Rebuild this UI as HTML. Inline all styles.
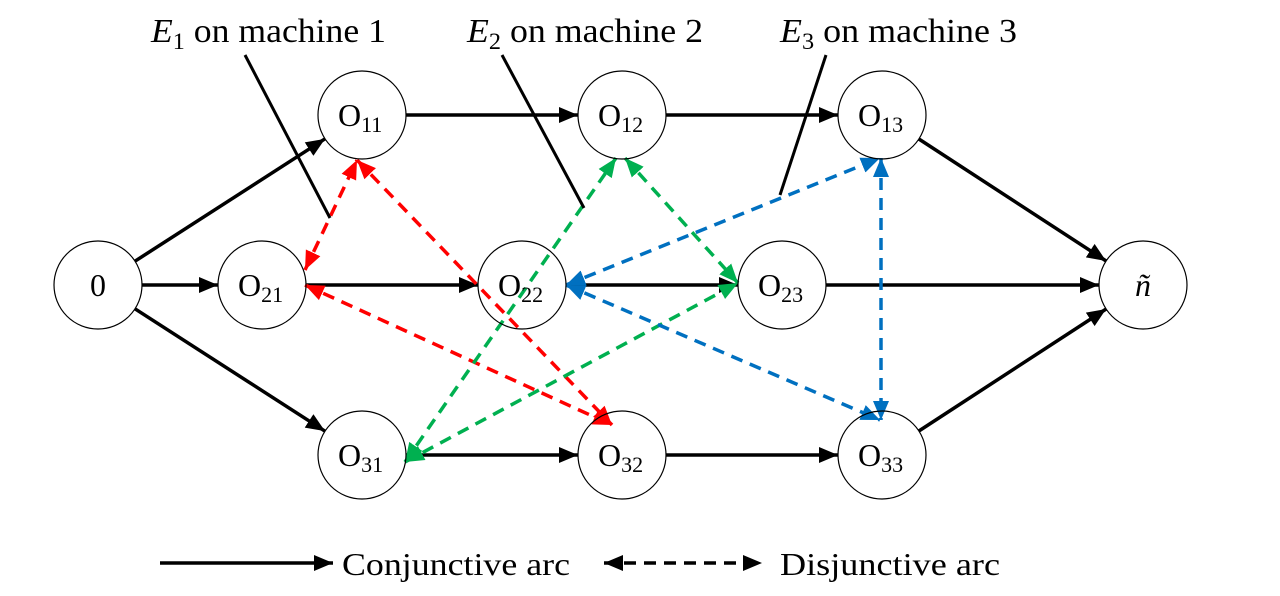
<!DOCTYPE html>
<html><head><meta charset="utf-8"><style>
html,body{margin:0;padding:0;background:#fff;}
svg{display:block;}
text{font-family:"Liberation Serif",serif;fill:#000;}
</style></head><body>
<svg id="s" width="1280" height="596" xmlns="http://www.w3.org/2000/svg">
<defs>
<marker id="mr" markerWidth="20" markerHeight="18" refX="19" refY="9" orient="auto-start-reverse" markerUnits="userSpaceOnUse"><path d="M0,1 L19,9 L0,17 z" fill="#ff0000"/></marker>
<marker id="mg" markerWidth="20" markerHeight="18" refX="19" refY="9" orient="auto-start-reverse" markerUnits="userSpaceOnUse"><path d="M0,1 L19,9 L0,17 z" fill="#00b050"/></marker>
<marker id="mb" markerWidth="20" markerHeight="18" refX="19" refY="9" orient="auto-start-reverse" markerUnits="userSpaceOnUse"><path d="M0,1 L19,9 L0,17 z" fill="#0070c0"/></marker>
<marker id="mK" markerWidth="20" markerHeight="18" refX="19" refY="9" orient="auto-start-reverse" markerUnits="userSpaceOnUse"><path d="M0,1 L19,9 L0,17 z" fill="#000"/></marker>
</defs>
<g id="lines"></g>
<g id="nodes"></g>
<line x1="245" y1="55" x2="330" y2="218" stroke="#000" stroke-width="3"/>
<line x1="502" y1="55" x2="584" y2="208" stroke="#000" stroke-width="3"/>
<line x1="826" y1="55" x2="780" y2="195" stroke="#000" stroke-width="3"/>
<text x="151" y="42" font-size="34" textLength="235" lengthAdjust="spacingAndGlyphs"><tspan font-style="italic">E</tspan><tspan font-size="23" dy="7">1</tspan><tspan dy="-7"> on machine 1</tspan></text>
<text x="467" y="42" font-size="34" textLength="236" lengthAdjust="spacingAndGlyphs"><tspan font-style="italic">E</tspan><tspan font-size="23" dy="7">2</tspan><tspan dy="-7"> on machine 2</tspan></text>
<text x="780" y="42" font-size="34" textLength="237" lengthAdjust="spacingAndGlyphs"><tspan font-style="italic">E</tspan><tspan font-size="23" dy="7">3</tspan><tspan dy="-7"> on machine 3</tspan></text>
<line x1="160" y1="563" x2="333" y2="563" stroke="#000" stroke-width="3.5" marker-end="url(#mK)"/>
<text x="342" y="575" font-size="32" textLength="228" lengthAdjust="spacingAndGlyphs">Conjunctive arc</text>
<line x1="604" y1="563" x2="762" y2="563" stroke="#000" stroke-width="3.5" stroke-dasharray="12,8" marker-start="url(#mK)" marker-end="url(#mK)"/>
<text x="780" y="575" font-size="32" textLength="220" lengthAdjust="spacingAndGlyphs">Disjunctive arc</text>
</svg>
<script>
var N={z:[98,285],a1:[362,115],a2:[622,115],a3:[882,115],b1:[262,285],b2:[522,285],b3:[782,285],n:[1143,285],c1:[362,455],c2:[622,455],c3:[882,455]};
var R=44,ns="http://www.w3.org/2000/svg";
var L=document.getElementById('lines'),G=document.getElementById('nodes');
function seg(x1,y1,x2,y2,col,mk,dash,both){var e=document.createElementNS(ns,'line');e.setAttribute('x1',x1);e.setAttribute('y1',y1);e.setAttribute('x2',x2);e.setAttribute('y2',y2);
e.setAttribute('stroke',col);e.setAttribute('stroke-width',3.5);if(dash)e.setAttribute('stroke-dasharray','12,8');
e.setAttribute('marker-end','url(#'+mk+')');if(both)e.setAttribute('marker-start','url(#'+mk+')');L.appendChild(e);}
function ln(a,b){var A=N[a],B=N[b];var dx=B[0]-A[0],dy=B[1]-A[1],d=Math.hypot(dx,dy);var ux=dx/d,uy=dy/d;
seg(A[0]+ux*R,A[1]+uy*R,B[0]-ux*R,B[1]-uy*R,'#000','mK',false,false);}
[['z','a1'],['z','b1'],['z','c1'],['a1','a2'],['a2','a3'],['b1','b2'],['b2','b3'],['c1','c2'],['c2','c3'],['a3','n'],['b3','n'],['c3','n']].forEach(function(p){ln(p[0],p[1]);});
seg(305,270,357,160,'#ff0000','mr',true,true);
seg(357,160,612,425,'#ff0000','mr',true,true);
seg(305,285,612,425,'#ff0000','mr',true,true);
seg(405,462,616,158,'#00b050','mg',true,true);
seg(625,158,738,283,'#00b050','mg',true,true);
seg(405,462,738,283,'#00b050','mg',true,true);
seg(566,285,880,158,'#0070c0','mb',true,true);
seg(566,285,880,420,'#0070c0','mb',true,true);
seg(881,158,881,420,'#0070c0','mb',true,true);
var lab={z:'0',a1:'11',a2:'12',a3:'13',b1:'21',b2:'22',b3:'23',c1:'31',c2:'32',c3:'33',n:'ñ'};
for(var k in N){var c=document.createElementNS(ns,'circle');c.setAttribute('cx',N[k][0]);c.setAttribute('cy',N[k][1]);c.setAttribute('r',R);c.setAttribute('fill','none');c.setAttribute('stroke','#000');c.setAttribute('stroke-width',1.2);G.appendChild(c);
var t=document.createElementNS(ns,'text');t.setAttribute('y',N[k][1]+11);t.setAttribute('font-size','32');
if(k=='z'||k=='n'){t.setAttribute('x',N[k][0]);t.setAttribute('text-anchor','middle');if(k=='n')t.setAttribute('font-style','italic');t.textContent=lab[k];}
else{t.setAttribute('x',N[k][0]-24);t.innerHTML='O<tspan font-size="22" dy="6">'+lab[k]+'</tspan>';}
G.appendChild(t);}
</script>
</body></html>
